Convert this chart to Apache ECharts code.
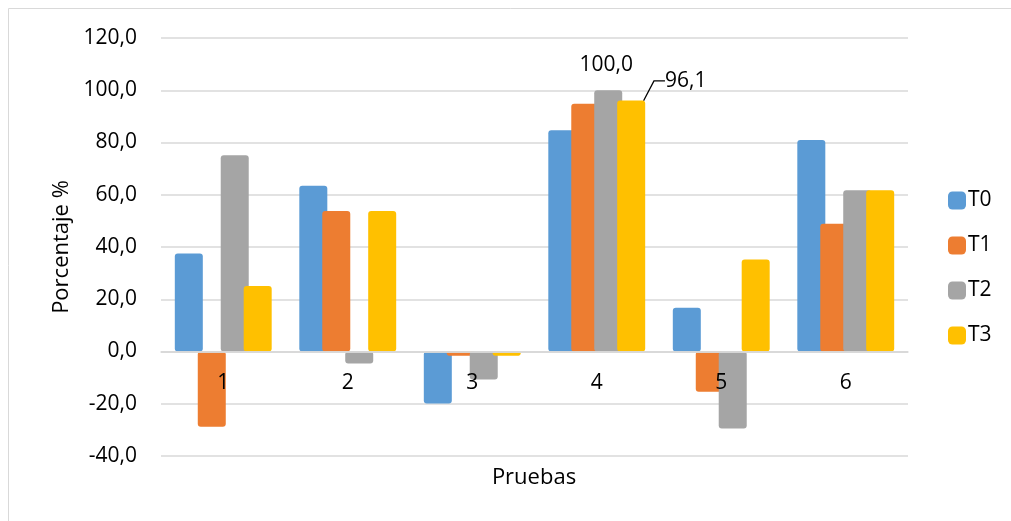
<!DOCTYPE html>
<html>
<head>
<meta charset="utf-8">
<script src="https://cdn.jsdelivr.net/npm/echarts@6/dist/echarts.min.js"></script>
<style>
  html, body { margin: 0; padding: 0; background: #fff; }
  #chart { width: 1011px; height: 521px; }
</style>
</head>
<body>
<div id="chart"></div>
<script>
// Percentage results per test (Pruebas 1-6) for treatments T0-T3
const categories = ['1', '2', '3', '4', '5', '6'];
const seriesNames = ['T0', 'T1', 'T2', 'T3'];
const T0 = [37.5, 63.4, -19.9, 84.7, 16.7, 81.0];
const T1 = [-28.8, 53.8, -1.6, 94.8, -15.4, 48.9];
const T2 = [75.1, -4.6, -10.7, 100.0, -29.5, 61.7];
const T3 = [25.1, 53.8, -1.6, 96.1, 35.2, 61.7];
const yTicks = { min: -40, max: 120, interval: 20 };
const colors = ['#5B9BD5', '#ED7D31', '#A5A5A5', '#FFC000'];

const FONT = '"Open Sans", "Noto Sans", sans-serif';
const fmt = v => v.toFixed(1).replace('.', ',');

const chart = echarts.init(document.getElementById('chart'));

function barSeries(name, values, idx, labelled) {
  return {
    name: name,
    type: 'bar',
    barWidth: 28,
    barGap: '-18%',
    data: values.map((v, i) => {
      const item = { value: v };
      if (labelled[i]) item.label = labelled[i];
      return item;
    }),
    itemStyle: { color: colors[idx], borderRadius: 3 },
    label: { show: false }
  };
}

const labelStyle = {
  show: true,
  position: 'top',
  formatter: p => fmt(p.value),
  fontFamily: FONT,
  fontSize: 21,
  color: '#000'
};

const series = [
  barSeries('T0', T0, 0, {}),
  barSeries('T1', T1, 1, {}),
  barSeries('T2', T2, 2, { 3: Object.assign({}, labelStyle, { distance: 15, offset: [-2, 0] }) }),
  barSeries('T3', T3, 3, { 3: Object.assign({}, labelStyle, { distance: 2, padding: [4, 0, 0, 9] }) })
];
// 96,1 sits to the upper right of its bar, joined by a leader line
series[3].labelLayout = { dx: 50, dy: -7 };
series[3].labelLine = { show: true, length2: 11, minTurnAngle: 0, lineStyle: { color: '#000', width: 1.3 } };
// zero baseline drawn over the bars
series[3].markLine = {
  silent: true,
  symbol: 'none',
  label: { show: false },
  lineStyle: { color: '#D9D9D9', width: 1.5, type: 'solid' },
  data: [{ yAxis: 0 }]
};

chart.setOption({
  animation: false,
  color: colors,
  grid: { left: 161, right: 103, top: 38, bottom: 65 },
  legend: {
    orient: 'vertical',
    left: 943,
    top: 185,
    itemWidth: 18,
    itemHeight: 18,
    itemGap: 24,
    icon: 'roundRect',
    textStyle: { fontFamily: FONT, fontSize: 21, color: '#000', padding: [0, 0, 0, -3] },
    data: seriesNames
  },
  xAxis: {
    type: 'category',
    data: categories,
    z: 3,
    axisLine: { onZero: true, lineStyle: { color: '#D9D9D9', width: 1.5 } },
    axisTick: { show: false },
    axisLabel: { fontFamily: FONT, fontSize: 21, color: '#000', margin: -83 }
  },
  yAxis: {
    type: 'value',
    min: yTicks.min,
    max: yTicks.max,
    interval: yTicks.interval,
    name: 'Porcentaje %',
    nameLocation: 'middle',
    nameGap: 88,
    nameTextStyle: { fontFamily: FONT, fontSize: 22, color: '#000' },
    axisLine: { show: false },
    axisTick: { show: false },
    axisLabel: { fontFamily: FONT, fontSize: 21, color: '#000', margin: 24, formatter: v => fmt(v) },
    splitLine: { lineStyle: { color: '#D9D9D9', width: 1.5 } }
  },
  graphic: [
    {
      type: 'rect',
      shape: { x: 8.5, y: 8.5, width: 1020, height: 540 },
      style: { fill: 'none', stroke: '#D9D9D9', lineWidth: 1 },
      silent: true
    },
    {
      type: 'text',
      x: 534,
      y: 478,
      style: { text: 'Pruebas', fontFamily: FONT, fontSize: 22, fill: '#000', align: 'center', verticalAlign: 'middle' }
    }
  ],
  series: series
});
</script>
</body>
</html>
